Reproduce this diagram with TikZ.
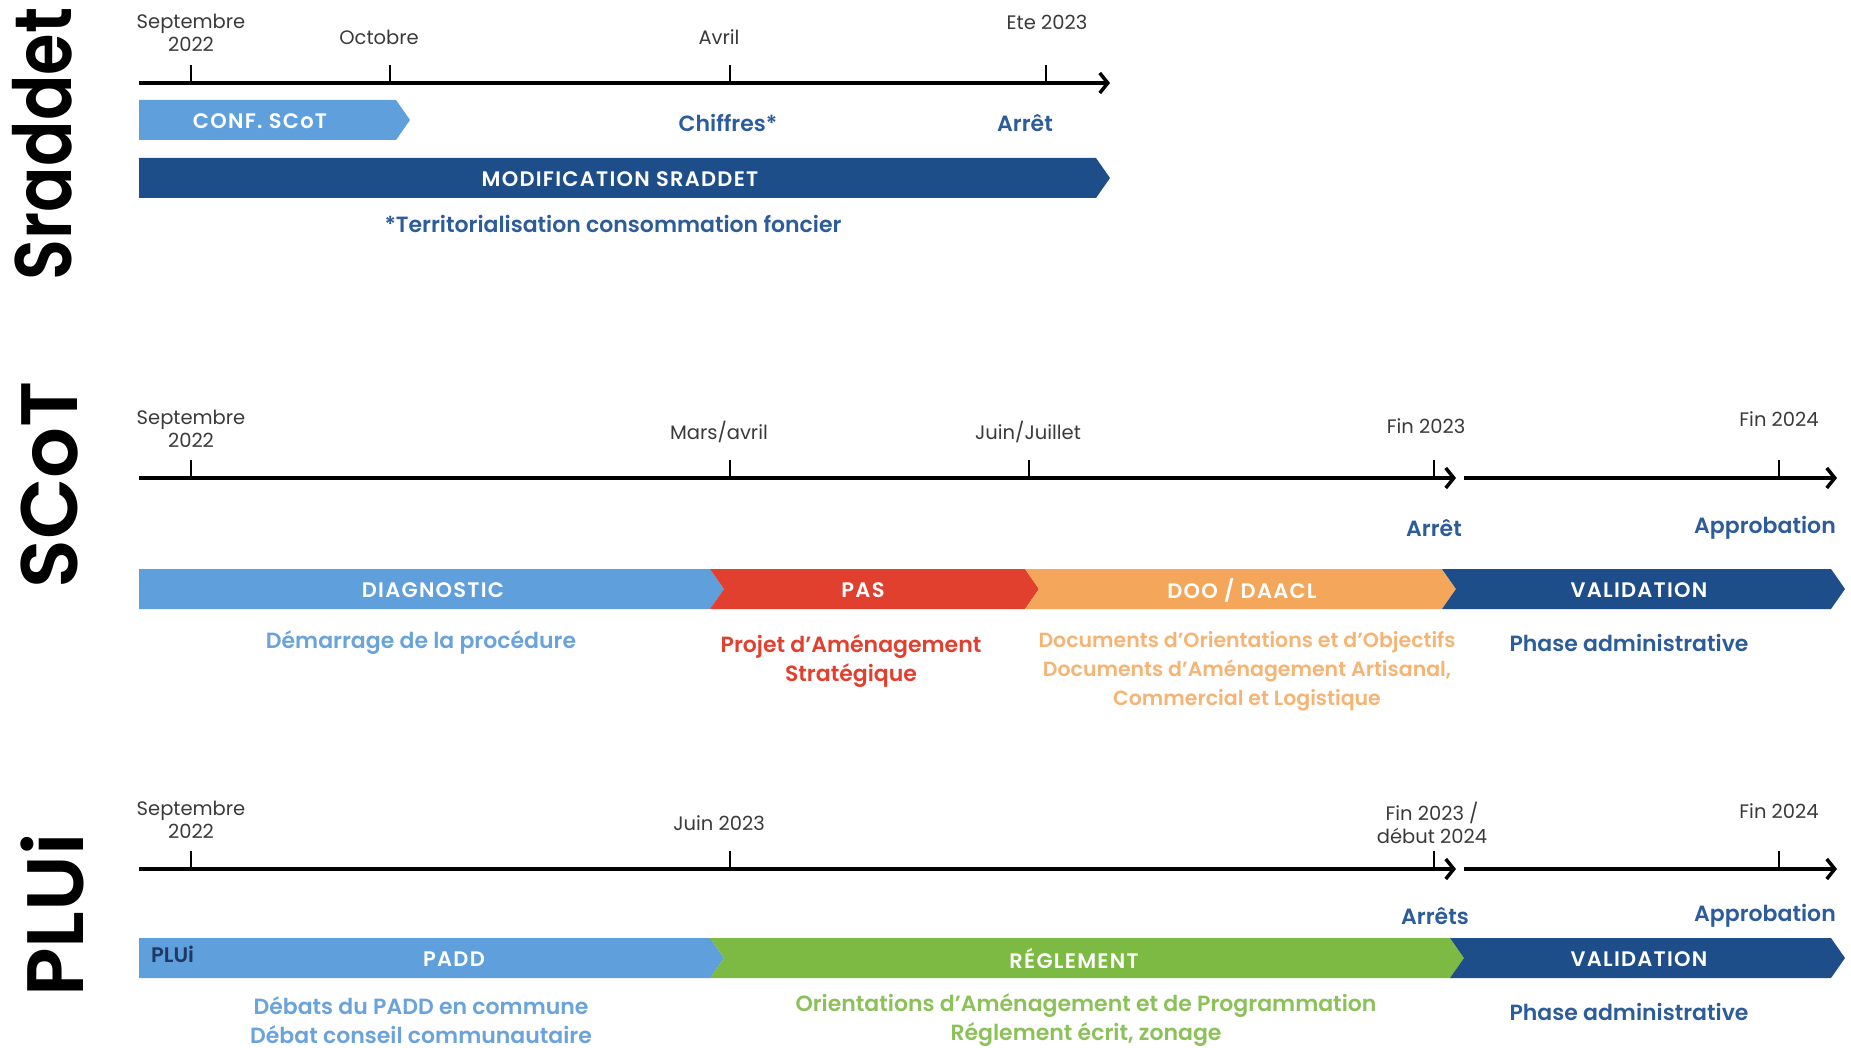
\documentclass[tikz,border=0pt]{standalone}
\usepackage{fontspec}
\setmainfont{Poppins}[BoldFont={* SemiBold}]
\usetikzlibrary{arrows.meta,positioning}

\definecolor{clair}{HTML}{5E9FDC}
\definecolor{fonce}{HTML}{1D4E89}
\definecolor{rouge}{HTML}{E2402F}
\definecolor{phorange}{HTML}{F4A75A}
\definecolor{vert}{HTML}{7CBA43}
\definecolor{tbleu}{HTML}{2D5C9A}
\definecolor{sclair}{HTML}{6AA3DB}
\definecolor{sorange}{HTML}{F6B474}
\definecolor{svert}{HTML}{8CC15A}
\definecolor{datec}{HTML}{3A3A3A}
\definecolor{marine}{HTML}{1F3864}

\tikzset{
    %Define standard arrow tip
    >={Straight Barb[length=8pt,width=20pt]},
    %Define style for the time axes
    axe/.style={
           ->,
           line width=3.5pt,
           black},
    graduation/.style={
           line width=1.3pt,
           black},
    %Define styles for texts
    date/.style={
           font=\fontsize{19.5}{23}\selectfont,
           text=datec,
           align=center,
           inner sep=0pt},
    jalon/.style={
           font=\bfseries\fontsize{22}{26}\selectfont,
           text=tbleu,
           inner sep=0pt},
    phase/.style={
           font=\bfseries\fontsize{21}{24}\selectfont\addfontfeatures{LetterSpace=6},
           text=white,
           inner sep=0pt},
    detail/.style={
           font=\bfseries\fontsize{22}{29}\selectfont,
           align=center,
           inner sep=0pt},
    titre/.style={
           font=\bfseries\fontsize{80}{80}\selectfont,
           rotate=90,
           inner sep=0pt}
}

% chevron bar: colour, left, right (base of tip), top, notch depth
\newcommand{\phasebar}[5]{%
    \fill[#1] (#2,#4) -- (#3,#4) -- ++(14,20) -- ++(-14,20)
        -- (#2,{#4+40}) -- ++(#5,-20) -- cycle;}

\begin{document}
\begin{tikzpicture}[x=1pt, y=-1pt]
    \useasboundingbox (0,0) rectangle (1851,1048);

    % SRADDET
    \node[titre] (sraddet) at (42,144) {\scalebox{0.84}[1]{Sraddet}};
    \coordinate (sa) at (139,83);
    \coordinate (sb) at (1110,83);
    \draw[axe] (sa) -- (sb);
    \foreach \x in {191,390,730,1046}
        \draw[graduation] (\x,83) -- ++(0,-18);
    \node[date] (s-sept) at (191,33) {Septembre\\2022};
    \node[date] (s-oct) at (379,37) {Octobre};
    \node[date] (s-avr) at (719,37) {Avril};
    \node[date] (s-ete) at (1047,22) {Ete 2023};

    \phasebar{clair}{139}{396}{100}{0}
    \node[phase] (conf) at (260,121) {CONF. SCoT};
    \node[jalon] (chiffres) at (728,123) {Chiffres*};
    \node[jalon] (s-arret) at (1025,123) {Arrêt};
    \phasebar{fonce}{139}{1096}{158}{0}
    \node[phase] (modif) at (620,179) {MODIFICATION SRADDET};
    \node[detail, text=tbleu] (foncier) at (613,224) {*Territorialisation consommation foncier};

    % SCOT
    \node[titre] (scot) at (50,485) {SCoT};
    \coordinate (ca) at (139,478);
    \coordinate (cb) at (1456,478);
    \coordinate (cc) at (1464,478);
    \coordinate (cd) at (1837,478);
    \draw[axe] (ca) -- (cb);
    \draw[axe] (cc) -- (cd);
    \foreach \x in {191,730,1029,1434,1779}
        \draw[graduation] (\x,478) -- ++(0,-18);
    \node[date] (c-sept) at (191,429) {Septembre\\2022};
    \node[date] (c-mars) at (719,432) {Mars/avril};
    \node[date] (c-juin) at (1028,432) {Juin/Juillet};
    \node[date] (c-fin23) at (1426,426) {Fin 2023};
    \node[date] (c-fin24) at (1779,419) {Fin 2024};
    \node[jalon] (c-arret) at (1434,528) {Arrêt};
    \node[jalon] (c-appro) at (1765,528) {Approbation};

    \phasebar{clair}{139}{710}{569}{0}
    \phasebar{rouge}{710}{1025}{569}{14}
    \phasebar{phorange}{1025}{1442}{569}{14}
    \phasebar{fonce}{1442}{1831}{569}{14}
    \node[phase] (diag) at (433,590) {DIAGNOSTIC};
    \node[phase] (pas) at (863,590) {PAS};
    \node[phase] (doo) at (1242,590) {DOO / DAACL};
    \node[phase] (c-valid) at (1639,590) {VALIDATION};
    \node[detail, text=sclair] (demarrage) at (421,643) {Démarrage de la procédure};
    \node[detail, text=rouge] (projet) at (851,661) {Projet d'Aménagement\\Stratégique};
    \node[detail, text=sorange, font=\bfseries\fontsize{20.5}{29}\selectfont] (documents) at (1247,671) {Documents d'Orientations et d'Objectifs\\Documents d'Aménagement Artisanal,\\Commercial et Logistique};
    \node[detail, text=tbleu] (c-admin) at (1629,643) {Phase administrative};

    % PLUI
    \node[titre] (plui) at (52,915) {PLUi};
    \coordinate (pa) at (139,869);
    \coordinate (pb) at (1456,869);
    \coordinate (pc) at (1464,869);
    \coordinate (pd) at (1837,869);
    \draw[axe] (pa) -- (pb);
    \draw[axe] (pc) -- (pd);
    \foreach \x in {191,730,1434,1779}
        \draw[graduation] (\x,869) -- ++(0,-18);
    \node[date] (p-sept) at (191,820) {Septembre\\2022};
    \node[date] (p-juin) at (719,823) {Juin 2023};
    \node[date] (p-fin23) at (1432,823) {Fin 2023 /\\début 2024};
    \node[date] (p-fin24) at (1779,811) {Fin 2024};
    \node[jalon] (p-arrets) at (1435,916) {Arrêts};
    \node[jalon] (p-appro) at (1765,916) {Approbation};

    \phasebar{clair}{139}{710}{938}{0}
    \phasebar{vert}{710}{1450}{938}{14}
    \phasebar{fonce}{1450}{1831}{938}{14}
    \node[phase, text=marine, font=\bfseries\fontsize{21}{24}\selectfont, anchor=west] (p-tag) at (151,954) {PLUi};
    \node[phase] (padd) at (454,959) {PADD};
    \node[phase] (reglement) at (1074,959) {RÉGLEMENT};
    \node[phase] (p-valid) at (1639,959) {VALIDATION};
    \node[detail, text=sclair] (debats) at (421,1020) {Débats du PADD en commune\\Débat conseil communautaire};
    \node[detail, text=svert] (oap) at (1086,1020) {Orientations d'Aménagement et de Programmation\\Réglement écrit, zonage};
    \node[detail, text=tbleu] (p-admin) at (1629,1012) {Phase administrative};

\end{tikzpicture}
\end{document}
